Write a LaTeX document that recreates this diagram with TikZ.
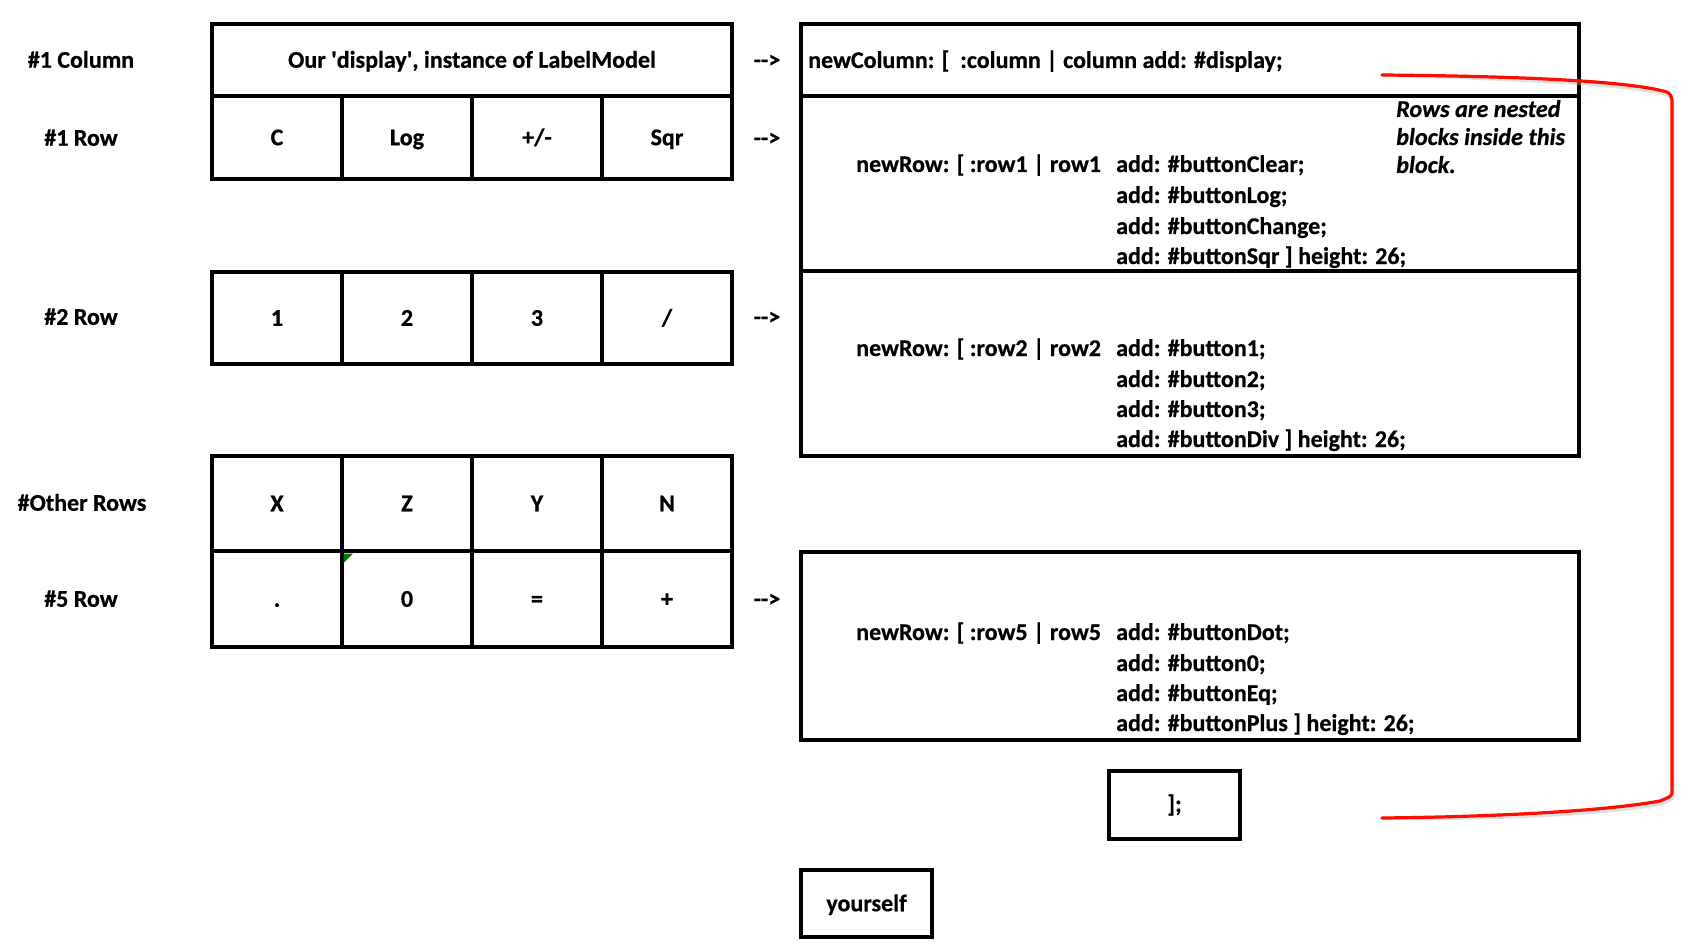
\documentclass[tikz,border=0pt]{standalone}
\usepackage{fontspec}
\setmainfont{Carlito}[BoldFeatures={FakeBold=0.6},BoldItalicFeatures={FakeBold=0.6}]
\newcommand\sq{\XeTeXglyph\XeTeXcharglyph"27\relax}
\begin{document}
\begin{tikzpicture}[x=1pt,y=-1pt,
  font=\fontsize{24}{29}\selectfont\bfseries,
  box/.style={draw=black, line width=3.2pt, inner sep=0pt},
  cell/.style={box, minimum width=130pt, text height=15.5pt, text depth=0pt},
  lbl/.style={inner sep=0pt, text height=15.5pt, text depth=0pt},
  code/.style={inner sep=0pt, anchor=base west},
  note/.style={inner sep=0pt, anchor=base west, font=\fontsize{24.2}{29}\selectfont\bfseries\itshape},
  bracket/.style={draw=red!90!orange, line width=3.2pt, line cap=round, line join=round}]
\fill[white] (0,0) rectangle (1694,952);
\useasboundingbox (0,0) rectangle (1694,952);

% left grid
\node[box, minimum width=520pt, minimum height=72pt, text height=15.5pt, text depth=0pt] (disp) at (472,60) {Our \sq display\sq, instance of LabelModel};
\foreach \t [count=\i] in {C,Log,+/-,Sqr}
  \node[cell, minimum height=83pt] (ra\i) at ({147+130*\i},137.5) {\t};
\foreach \t [count=\i] in {1,2,3,/}
  \node[cell, minimum height=92pt] (rb\i) at ({147+130*\i},318) {\t};
\foreach \t [count=\i] in {X,Z,Y,N}
  \node[cell, minimum height=95pt] (rc\i) at ({147+130*\i},503.5) {\t};
\foreach \t [count=\i] in {.,0,=,+}
  \node[cell, minimum height=96pt] (rd\i) at ({147+130*\i},599) {\t};
\fill[green!50!black] (343.6,553.6) -- (353,553.6) -- (343.6,563) -- cycle;

% left labels
\node[lbl] (l1) at (81,60) {\#1 Column};
\node[lbl] (l2) at (81,138) {\#1 Row};
\node[lbl] (l3) at (81,317) {\#2 Row};
\node[lbl] (l4) at (82,503) {\#Other Rows};
\node[lbl] (l5) at (81,599) {\#5 Row};

% arrows as text
\node[lbl] (a1) at (767,60) {\mbox{-}\mbox{-}>};
\node[lbl] (a2) at (767,138) {\mbox{-}\mbox{-}>};
\node[lbl] (a3) at (767,317) {\mbox{-}\mbox{-}>};
\node[lbl] (a4) at (767,599) {\mbox{-}\mbox{-}>};

% right boxes
\node[box, minimum width=778pt, minimum height=72pt] (bcol) at (1190,60) {};
\node[box, minimum width=778pt, minimum height=175pt] (brow1) at (1190,183.5) {};
\node[box, minimum width=778pt, minimum height=185pt] (brow2) at (1190,363.5) {};
\node[box, minimum width=778pt, minimum height=188pt] (brow5) at (1190,646) {};
\node[box, minimum width=131pt, minimum height=68pt] (bend) at (1174.5,805) {];};
\node[box, minimum width=131pt, minimum height=67pt, text height=15.5pt, text depth=0pt] (bself) at (866.5,903.5) {yourself};

% code texts (baselines)
\node[code] (tcol) at (808,68) {newColumn: [\ \ :column | column add: \#display;};
\node[code] (t1a) at (856,172) {newRow: [ :row1 | row1};
\node[code] (t1b) at (1116,172) {add: \#buttonClear;};
\node[code] (t1c) at (1116,203) {add: \#buttonLog;};
\node[code] (t1d) at (1116,234) {add: \#buttonChange;};
\node[code] (t1e) at (1116,264) {add: \#buttonSqr ] height: 26;};
\node[code] (t2a) at (856,356) {newRow: [ :row2 | row2};
\node[code] (t2b) at (1116,356) {add: \#button1;};
\node[code] (t2c) at (1116,387) {add: \#button2;};
\node[code] (t2d) at (1116,417) {add: \#button3;};
\node[code] (t2e) at (1116,447) {add: \#buttonDiv ] height: 26;};
\node[code] (t5a) at (856,640) {newRow: [ :row5 | row5};
\node[code] (t5b) at (1116,640) {add: \#buttonDot;};
\node[code] (t5c) at (1116,671) {add: \#button0;};
\node[code] (t5d) at (1116,701) {add: \#buttonEq;};
\node[code] (t5e) at (1116,731) {add: \#buttonPlus ] height: 26;};

% note
\node[note] (n1) at (1396,117) {Rows are nested};
\node[note] (n2) at (1396,145) {blocks inside this};
\node[note] (n3) at (1396,173) {block.};

% red bracket
\coordinate (rs) at (1382,75);
\coordinate (re) at (1382,818);
\draw[bracket, draw=black!30, opacity=0.4, shift={(1pt,-3pt)}]
  (rs) .. controls (1500,76) and (1620,80) .. (1663,91) .. controls (1670,93) .. (1672,100)
  -- (1672,790) .. controls (1672,796) .. (1660,801)
  .. controls (1600,812) and (1480,817) .. (re);
\draw[bracket]
  (rs) .. controls (1500,76) and (1620,80) .. (1663,91) .. controls (1670,93) .. (1672,100)
  -- (1672,790) .. controls (1672,796) .. (1660,801)
  .. controls (1600,812) and (1480,817) .. (re);
\end{tikzpicture}
\end{document}
